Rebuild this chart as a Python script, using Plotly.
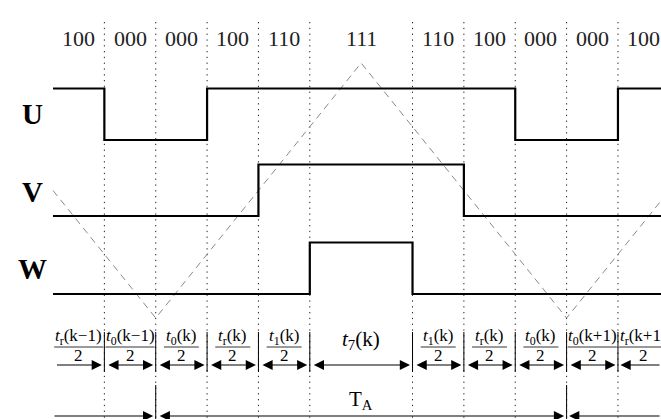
import numpy as np
import plotly.graph_objects as go

# ---------------- data ----------------
states = ["100", "000", "000", "100", "110", "111", "110", "100", "000", "000", "100"]
durations = [1, 1, 1, 1, 1, 2, 1, 1, 1, 1, 1]
phase_names = ["U", "V", "W"]
interval_sym = ["r", "0", "0", "r", "1", "7", "1", "r", "0", "0", "r"]
interval_k = ["k−1", "k−1", "k", "k", "k", "k", "k", "k", "k", "k+1", "k+1"]
interval_halved = [True, True, True, True, True, False, True, True, True, True, True]
carrier_t = [0, 2, 6, 10, 12]
carrier_v = [0, -1, 1, -1, 0]
period_start, period_end = 2, 10
period_label = "T<sub>A</sub>"

# ---------------- layout constants ----------------
W, H = 661, 419
X0, PX = 53.0, 51.36          # pixel of t=0, pixels per time unit
XMIN, XMAX = -X0 / PX, (W - X0) / PX
FONT = "Liberation Serif"
SIG_LOW = {"U": 140, "V": 216, "W": 294}
SIG_AMP = 51.5
CAR_MID, CAR_AMP = 190.5, 127.5
GAP = 2.5 / PX

def xt(px):
    return (px - X0) / PX

b = np.concatenate([[0], np.cumsum(durations)])
centers = (b[:-1] + b[1:]) / 2
inner = b[1:-1]

fig = go.Figure()

# carrier triangle
fig.add_trace(go.Scatter(
    x=carrier_t, y=[CAR_MID - CAR_AMP * v for v in carrier_v], mode="lines",
    line=dict(color="#8a8a8a", width=1, dash="7px,5px"), hoverinfo="skip"))

# switching signals
for i, name in enumerate(phase_names):
    bits = [int(s[i]) for s in states]
    ys = [SIG_LOW[name] - SIG_AMP * v for v in bits + [bits[-1]]]
    fig.add_trace(go.Scatter(x=b, y=ys, mode="lines", line_shape="hv",
                             line=dict(color="black", width=2.2), hoverinfo="skip"))

shapes = []
ann = []
# dotted boundary lines
for t in inner:
    shapes.append(dict(type="line", xref="x", yref="y", x0=t, x1=t, y0=22, y1=H,
                       line=dict(color="#222", width=1, dash="1.3px,4.5px"), layer="below"))
    shapes.append(dict(type="line", xref="x", yref="y", x0=t, x1=t, y0=332, y1=372,
                       line=dict(color="black", width=1)))
for t in (period_start, period_end):
    shapes.append(dict(type="line", xref="x", yref="y", x0=t, x1=t, y0=385, y1=H,
                       line=dict(color="black", width=1)))

# state codes
for c, s in zip(centers, states):
    ann.append(dict(x=c, y=38, xref="x", yref="y", text=s, showarrow=False,
                    font=dict(family=FONT, size=22, color="#222")))

# phase names
for name, ypx in zip(phase_names, [114, 192, 269]):
    ann.append(dict(x=xt(32), y=ypx, xref="x", yref="y", text="<b>%s</b>" % name,
                    showarrow=False, font=dict(family=FONT, size=29, color="black")))

# interval labels
for c, sym, k, half, lo, hi in zip(centers, interval_sym, interval_k, interval_halved, b[:-1], b[1:]):
    num = "<i>t</i><sub>%s</sub>(%s)" % (sym, k)
    if half:
        ann.append(dict(x=c, y=337, xref="x", yref="y", text=num, showarrow=False,
                        font=dict(family=FONT, size=17, color="black")))
        ann.append(dict(x=c, y=355, xref="x", yref="y", text="2", showarrow=False,
                        font=dict(family=FONT, size=17, color="black")))
        hw = min(7.0 * len(sym + k + "t()") / 2, 25.5) / PX
        shapes.append(dict(type="line", xref="x", yref="y", x0=c - hw, x1=c + hw,
                           y0=347, y1=347, line=dict(color="black", width=0.8)))
    else:
        ann.append(dict(x=c, y=340, xref="x", yref="y", text=num, showarrow=False,
                        font=dict(family=FONT, size=21, color="black")))

def arrow(x_tail, x_head, y, side):
    ann.append(dict(x=x_head, y=y, ax=x_tail, ay=y, xref="x", yref="y", axref="x", ayref="y",
                    text="", showarrow=True, arrowhead=2, startarrowhead=2, arrowside=side,
                    arrowsize=1.7, startarrowsize=1.7, arrowwidth=1.2, arrowcolor="black"))

n = len(durations)
for i in range(n):
    lo, hi = b[i], b[i + 1]
    if i == 0:
        arrow(lo + GAP, hi - GAP, 365, "end")
    elif i == n - 1:
        arrow(XMAX, lo + GAP, 365, "end")
    else:
        arrow(lo + GAP, hi - GAP, 365, "end+start")

arrow(0, period_start - GAP, 416, "end")
arrow(period_start + GAP, period_end - GAP, 416, "end+start")
arrow(XMAX, period_end + GAP, 416, "end")
ann.append(dict(x=(period_start + period_end) / 2, y=400, xref="x", yref="y", text=period_label,
                showarrow=False, font=dict(family=FONT, size=21, color="black")))

fig.update_layout(
    width=W, height=H, margin=dict(l=0, r=0, t=0, b=0),
    paper_bgcolor="white", plot_bgcolor="white", showlegend=False,
    xaxis=dict(range=[XMIN, XMAX], visible=False, fixedrange=True),
    yaxis=dict(range=[H, 0], visible=False, fixedrange=True),
    shapes=shapes, annotations=ann,
)
fig.write_html("out.html", config={"displayModeBar": False},
               post_script="document.body.style.margin='0px';document.body.style.overflow='hidden';")
